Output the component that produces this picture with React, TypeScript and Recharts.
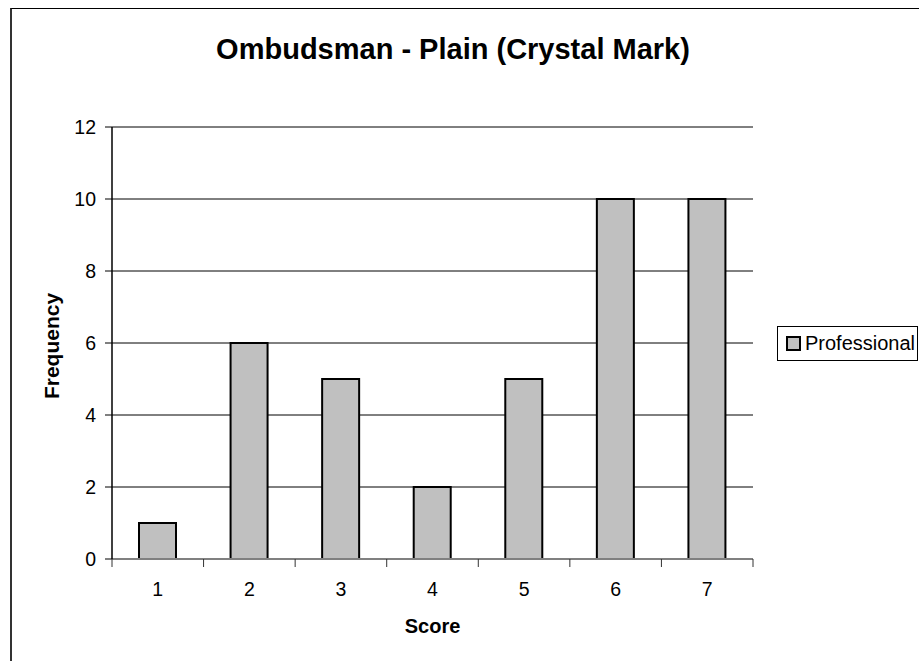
import React from "react";
import { BarChart, Bar, XAxis, YAxis, CartesianGrid } from "recharts";

const scores = ["1", "2", "3", "4", "5", "6", "7"];
const professional = [1, 6, 5, 2, 5, 10, 10];
const yTicks = [0, 2, 4, 6, 8, 10, 12];
const seriesName = "Professional";

const data = scores.map((s, i) => ({ score: s, professional: professional[i] }));

const FONT = '"Liberation Sans", Arial, sans-serif';
const X_TICK_SIZE = 8;
const X_TICK_MARGIN = 15;

// category ticks in this chart sit between the bars, not under them
function EdgeTick(props: any) {
  const { x, y, payload, index, visibleTicksCount } = props;
  const half = payload?.offset ?? 45.8;
  const y0 = y - X_TICK_SIZE - X_TICK_MARGIN;
  const last = index === (visibleTicksCount ?? scores.length) - 1;
  return (
    <g>
      <line x1={x - half} x2={x - half} y1={y0} y2={y0 + X_TICK_SIZE} stroke="#333" strokeWidth={1} />
      {last && (
        <line x1={x + half} x2={x + half} y1={y0} y2={y0 + X_TICK_SIZE} stroke="#333" strokeWidth={1} />
      )}
      <text x={x} y={y} dy="0.71em" textAnchor="middle" fill="#000" fontSize={19.5} fontFamily={FONT}>
        {payload.value}
      </text>
    </g>
  );
}

export default function App() {
  return (
    <div style={{ position: "absolute", left: 0, top: 0, width: 919, height: 661, background: "#fff", fontFamily: FONT }}>
      <div
        style={{
          position: "absolute",
          left: 10,
          top: 8,
          width: 909,
          height: 653,
          borderLeft: "2px solid #333",
          borderTop: "1px solid #000",
          boxSizing: "border-box",
        }}
      />
      <BarChart
        width={919}
        height={661}
        data={data}
        margin={{ top: 127, right: 166, bottom: 42, left: 0 }}
        style={{ position: "absolute", left: 0, top: 0 }}
      >
        <CartesianGrid vertical={false} stroke="#000" strokeWidth={1} />
        <XAxis
          dataKey="score"
          height={60}
          interval={0}
          tickLine={false}
          tickSize={X_TICK_SIZE}
          tickMargin={X_TICK_MARGIN}
          axisLine={{ stroke: "#808080", strokeWidth: 2 }}
          tick={(p: any) => <EdgeTick {...p} />}
        />
        <XAxis
          xAxisId="top"
          orientation="top"
          dataKey="score"
          height={0}
          tick={false}
          tickLine={false}
          axisLine={{ stroke: "#808080", strokeWidth: 2 }}
        />
        <YAxis
          width={112}
          domain={[0, 12]}
          ticks={yTicks}
          interval={0}
          tickSize={7}
          tickMargin={9}
          axisLine={{ stroke: "#000", strokeWidth: 1.5 }}
          tickLine={{ stroke: "#000" }}
          tick={{ fill: "#000", fontSize: 19.5, fontFamily: FONT }}
        />
        <YAxis
          yAxisId="right"
          orientation="right"
          width={0}
          domain={[0, 12]}
          tick={false}
          tickLine={false}
          axisLine={{ stroke: "#808080", strokeWidth: 2 }}
        />
        <Bar
          dataKey="professional"
          name={seriesName}
          barSize={37}
          fill="#C0C0C0"
          stroke="#000"
          strokeWidth={2}
          isAnimationActive={false}
        />
      </BarChart>
      <svg width={919} height={661} style={{ position: "absolute", left: 0, top: 0, pointerEvents: "none" }}>
        <text x={453} y={59} textAnchor="middle" fontSize={29} fontWeight="bold" fontFamily={FONT} fill="#000">
          Ombudsman - Plain (Crystal Mark)
        </text>
        <text x={432.5} y={633} textAnchor="middle" fontSize={20} fontWeight="bold" fontFamily={FONT} fill="#000">
          Score
        </text>
        <text
          transform="translate(58.5,346) rotate(-90)"
          textAnchor="middle"
          fontSize={21}
          fontWeight="bold"
          fontFamily={FONT}
          fill="#000"
        >
          Frequency
        </text>
      </svg>
      <div
        style={{
          position: "absolute",
          left: 777,
          top: 326,
          width: 141,
          height: 35,
          border: "1px solid #000",
          boxSizing: "border-box",
          display: "flex",
          alignItems: "center",
          paddingLeft: 8,
          fontSize: 20,
          color: "#000",
          whiteSpace: "nowrap",
          overflow: "hidden",
        }}
      >
        <span
          style={{
            display: "inline-block",
            width: 11,
            height: 11,
            background: "#C0C0C0",
            border: "2px solid #000",
            marginRight: 4,
          }}
        />
        {seriesName}
      </div>
    </div>
  );
}
